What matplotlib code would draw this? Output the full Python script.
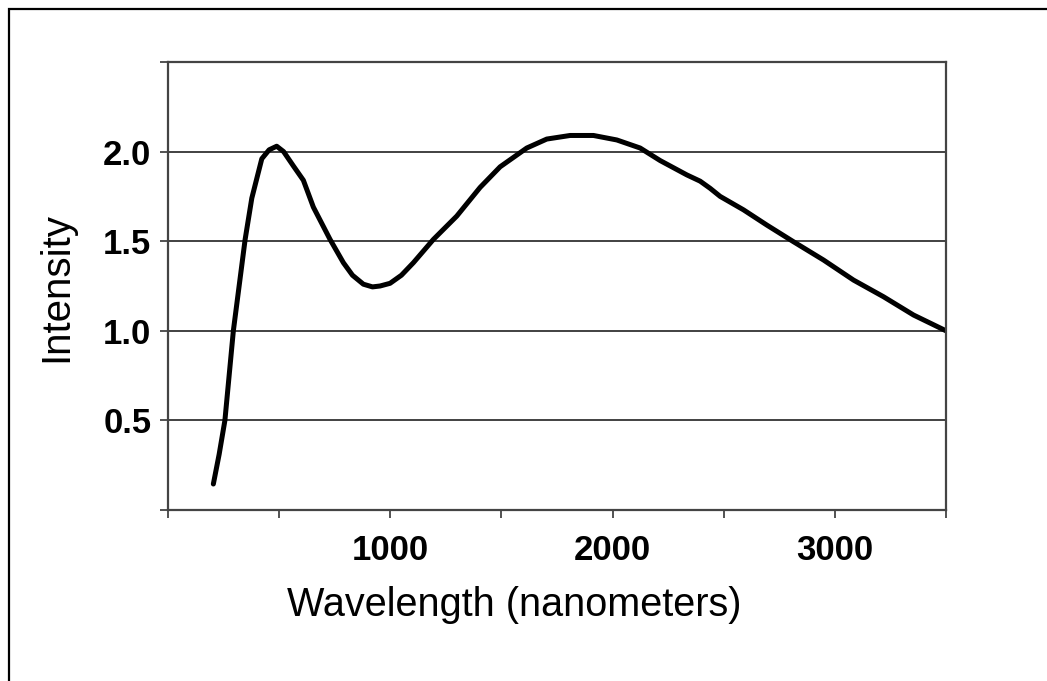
import matplotlib.pyplot as plt
from matplotlib.patches import Rectangle

# wavelength (nm) and intensity
wavelength = [204, 230, 256, 294, 347, 377, 422, 455, 489, 520, 564, 609, 654,
              729, 789, 830, 879, 920, 954, 999, 1050, 1104, 1194, 1299, 1404,
              1494, 1614, 1704, 1809, 1914, 2019, 2124, 2214, 2334, 2394, 2439,
              2484, 2589, 2694, 2814, 2949, 3084, 3219, 3354, 3500]
intensity = [0.145, 0.31, 0.50, 1.0, 1.51, 1.74, 1.96, 2.01, 2.03, 2.0, 1.92,
             1.84, 1.69, 1.51, 1.38, 1.31, 1.26, 1.245, 1.25, 1.265, 1.31,
             1.38, 1.51, 1.64, 1.80, 1.915, 2.02, 2.07, 2.09, 2.09, 2.065,
             2.02, 1.95, 1.87, 1.835, 1.795, 1.75, 1.675, 1.59, 1.497, 1.395,
             1.283, 1.19, 1.088, 1.0]

y_ticks = [0.5, 1.0, 1.5, 2.0]
x_label_ticks = [1000, 2000, 3000]

plt.rcParams['font.family'] = ['Liberation Sans', 'DejaVu Sans']

fig = plt.figure(figsize=(10.47, 6.81), dpi=100)
ax = fig.add_axes([168 / 1047, 1 - 510 / 681, 778 / 1047, 448 / 681])

# outer frame of the picture
fig.patches.append(Rectangle((8.5 / 1047, -0.05), 1.1, 1 - 9 / 681 + 0.05,
                             transform=fig.transFigure, fill=False,
                             edgecolor='black', linewidth=1.6))

ax.plot(wavelength, intensity, color='black', linewidth=3.6,
        solid_capstyle='round', solid_joinstyle='round')

ax.set_xlim(0, 3500)
ax.set_ylim(0, 2.5)

for v in y_ticks + [2.5]:
    ax.axhline(v, color='#333333', linewidth=1.3, zorder=0)

ax.set_yticks([0, 0.5, 1.0, 1.5, 2.0, 2.5])
ax.set_yticklabels(['', '0.5', '1.0', '1.5', '2.0', ''])
ax.set_xticks(range(0, 3501, 500))
ax.set_xticklabels(['' if t not in x_label_ticks else str(t)
                    for t in range(0, 3501, 500)])

for s in ax.spines.values():
    s.set_color('#444444')
    s.set_linewidth(1.6)

ax.tick_params(axis='both', length=6, width=1.3, color='#444444',
               labelsize=25)
ax.tick_params(axis='x', pad=11)
ax.tick_params(axis='y', pad=6)
for lab in ax.get_xticklabels() + ax.get_yticklabels():
    lab.set_fontweight('bold')

ax.set_xlabel('Wavelength (nanometers)', fontsize=28.5)
ax.set_ylabel('Intensity', fontsize=29)
ax.xaxis.set_label_coords(0.4447, -0.1696)
ax.yaxis.set_label_coords(-0.1195, 0.4967)

fig.savefig('out.png', dpi=100)
